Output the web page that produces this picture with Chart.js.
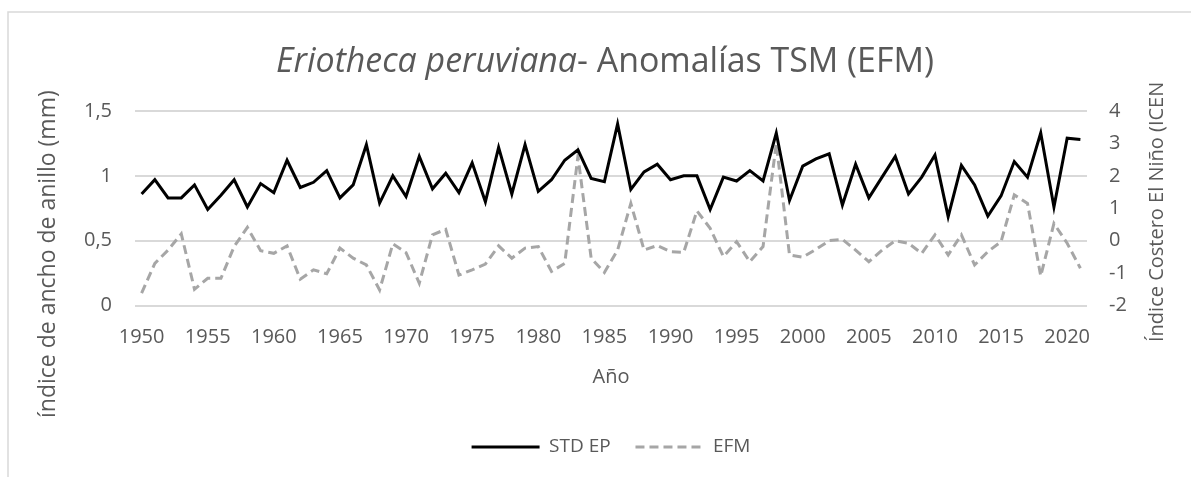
<!DOCTYPE html>
<html>
<head>
<meta charset="utf-8">
<script src="https://cdn.jsdelivr.net/npm/chart.js@4.4.1/dist/chart.umd.min.js"></script>
<style>
  html, body { margin: 0; padding: 0; background: #fff; }
  #wrap { width: 1191px; height: 477px; }
</style>
</head>
<body>
<div id="wrap"><canvas id="chart" width="1191" height="477"></canvas></div>
<script>
// -------------------------
// DATOS
// -------------------------
const years = [
  "1950","1951","1952","1953","1954","1955","1956","1957","1958","1959",
  "1960","1961","1962","1963","1964","1965","1966","1967","1968","1969",
  "1970","1971","1972","1973","1974","1975","1976","1977","1978","1979",
  "1980","1981","1982","1983","1984","1985","1986","1987","1988","1989",
  "1990","1991","1992","1993","1994","1995","1996","1997","1998","1999",
  "2000","2001","2002","2003","2004","2005","2006","2007","2008","2009",
  "2010","2011","2012","2013","2014","2015","2016","2017","2018","2019",
  "2020","2021"
];

// índice de ancho de anillo (eje izquierdo)
const stdEP = [
  0.86, 0.97, 0.83, 0.83, 0.93, 0.74, 0.85, 0.97, 0.76, 0.94,
  0.87, 1.12, 0.91, 0.95, 1.04, 0.83, 0.93, 1.24, 0.79, 1.00,
  0.84, 1.15, 0.90, 1.02, 0.87, 1.10, 0.80, 1.22, 0.86, 1.24,
  0.88, 0.97, 1.12, 1.20, 0.98, 0.955, 1.40, 0.895, 1.03, 1.09,
  0.97, 1.00, 1.00, 0.74, 0.99, 0.96, 1.04, 0.96, 1.33, 0.81,
  1.075, 1.13, 1.17, 0.775, 1.09, 0.83, 0.99, 1.15, 0.86, 0.99,
  1.16, 0.685, 1.08, 0.93, 0.69, 0.845, 1.11, 0.99, 1.33, 0.76,
  1.29, 1.28
];

// ICEN EFM (eje derecho)
const efm = [
  -1.62, -0.70, -0.29, 0.21, -1.50, -1.16, -1.16, -0.18, 0.41, -0.31,
  -0.39, -0.16, -1.19, -0.90, -1.02, -0.23, -0.54, -0.75, -1.52, -0.10,
  -0.37, -1.31, 0.18, 0.35, -1.06, -0.90, -0.72, -0.16, -0.54, -0.23,
  -0.18, -0.95, -0.70, 2.60, -0.54, -0.98, -0.29, 1.15, -0.29, -0.15,
  -0.34, -0.36, 0.92, 0.38, -0.49, -0.03, -0.65, -0.18, 3.00, -0.44,
  -0.51, -0.27, 0.00, 0.04, -0.29, -0.65, -0.29, 0.00, -0.08, -0.39,
  0.18, -0.44, 0.18, -0.75, -0.34, -0.03, 1.41, 1.15, -1.09, 0.53,
  -0.08, -0.85
];

const leftTicks = [0, 0.5, 1, 1.5];
const rightTicks = [-2, -1, 0, 1, 2, 3, 4];

const textColor = '#595959';
const fontFamily = '"Open Sans", sans-serif';

// -------------------------
// TITULOS Y MARCO
// -------------------------
const decor = {
  id: 'decor',
  beforeDraw(chart) {
    const ctx = chart.ctx;
    ctx.save();
    ctx.fillStyle = '#fff';
    ctx.fillRect(0, 0, chart.width, chart.height);
    ctx.strokeStyle = '#d9d9d9';
    ctx.lineWidth = 1.5;
    ctx.beginPath();
    ctx.moveTo(8, chart.height);
    ctx.lineTo(8, 12);
    ctx.lineTo(chart.width, 12);
    ctx.stroke();
    ctx.restore();
  },
  afterDraw(chart) {
    const ctx = chart.ctx;
    ctx.save();
    ctx.fillStyle = textColor;
    ctx.textBaseline = 'middle';

    // título con parte en cursiva
    const part1 = 'Eriotheca peruviana';
    const part2 = '- Anomalías TSM (EFM)';
    let size = 28;
    ctx.font = 'italic ' + size + 'px ' + fontFamily;
    let w1 = ctx.measureText(part1).width;
    ctx.font = size + 'px ' + fontFamily;
    let w2 = ctx.measureText(part2).width;
    size = size * 658 / (w1 + w2);
    ctx.font = 'italic ' + size + 'px ' + fontFamily;
    w1 = ctx.measureText(part1).width;
    ctx.font = size + 'px ' + fontFamily;
    w2 = ctx.measureText(part2).width;
    const x0 = 605 - (w1 + w2) / 2;
    ctx.textAlign = 'left';
    ctx.font = 'italic ' + size + 'px ' + fontFamily;
    ctx.fillText(part1, x0, 62);
    ctx.font = size + 'px ' + fontFamily;
    ctx.fillText(part2, x0 + w1, 62);

    // títulos de ejes verticales
    ctx.save();
    ctx.font = '23px ' + fontFamily;
    ctx.translate(48, 418);
    ctx.rotate(-Math.PI / 2);
    ctx.fillText('índice de ancho de anillo (mm)', 0, 0);
    ctx.restore();

    ctx.save();
    ctx.font = '20px ' + fontFamily;
    ctx.translate(1157, 342);
    ctx.rotate(-Math.PI / 2);
    ctx.fillText('Índice Costero El Niño (ICEN', 0, 0);
    ctx.restore();

    ctx.restore();
  }
};

// -------------------------
// GRAFICO
// -------------------------
const ctx = document.getElementById('chart').getContext('2d');

new Chart(ctx, {
  type: 'line',
  data: {
    labels: years,
    datasets: [
      {
        label: 'STD EP',
        data: stdEP,
        yAxisID: 'y',
        borderColor: '#000000',
        backgroundColor: '#000000',
        borderWidth: 3,
        pointRadius: 0,
        tension: 0,
        pointStyle: 'line'
      },
      {
        label: 'EFM',
        data: efm,
        yAxisID: 'y1',
        borderColor: '#a6a6a6',
        backgroundColor: '#a6a6a6',
        borderWidth: 3,
        borderDash: [9, 5],
        pointRadius: 0,
        tension: 0,
        pointStyle: 'line'
      }
    ]
  },
  options: {
    responsive: false,
    animation: false,
    devicePixelRatio: 1,
    layout: { padding: { top: 111, left: 0, right: 0, bottom: 10.5 } },
    plugins: {
      title: { display: false },
      tooltip: { enabled: false },
      legend: {
        position: 'bottom',
        fullSize: false,
        labels: {
          usePointStyle: true,
          pointStyle: 'line',
          pointStyleWidth: 68,
          padding: 10,
          color: textColor,
          font: { family: fontFamily, size: 19 },
          generateLabels: function (chart) {
            const items = Chart.defaults.plugins.legend.labels.generateLabels(chart);
            items.forEach((item, i) => {
              const ds = chart.data.datasets[i];
              item.lineWidth = ds.borderWidth;
              item.strokeStyle = ds.borderColor;
              item.lineDash = ds.borderDash || [];
            });
            items[0].text += '   ';
            return items;
          }
        }
      }
    },
    scales: {
      x: {
        type: 'category',
        offset: true,
        grid: { display: false, drawTicks: false },
        border: { display: false },
        ticks: {
          autoSkip: false,
          maxRotation: 0,
          padding: 20,
          color: textColor,
          font: { family: fontFamily, size: 20 },
          callback: function (value, index) {
            const label = this.getLabelForValue(value);
            return Number(label) % 5 === 0 ? label : '';
          }
        },
        title: {
          display: true,
          text: 'Año',
          color: textColor,
          font: { family: fontFamily, size: 20 },
          padding: { top: 0, bottom: 38 }
        },
        afterFit: function (scale) { scale.height = 122; }
      },
      y: {
        position: 'left',
        min: 0,
        max: 1.5,
        grid: { color: '#d9d9d9', lineWidth: 2, drawTicks: false },
        border: { display: false },
        afterBuildTicks: function (scale) {
          scale.ticks = leftTicks.map(v => ({ value: v }));
        },
        ticks: {
          padding: 23,
          color: textColor,
          font: { family: fontFamily, size: 20 },
          callback: v => String(v).replace('.', ',')
        },
        afterFit: function (scale) { scale.width = 135; }
      },
      y1: {
        position: 'right',
        min: -2,
        max: 4,
        grid: { display: false, drawTicks: false },
        border: { display: false },
        afterBuildTicks: function (scale) {
          scale.ticks = rightTicks.map(v => ({ value: v }));
        },
        ticks: {
          padding: 22,
          color: textColor,
          font: { family: fontFamily, size: 20 }
        },
        afterFit: function (scale) { scale.width = 104; }
      }
    }
  },
  plugins: [decor]
});
</script>
</body>
</html>
